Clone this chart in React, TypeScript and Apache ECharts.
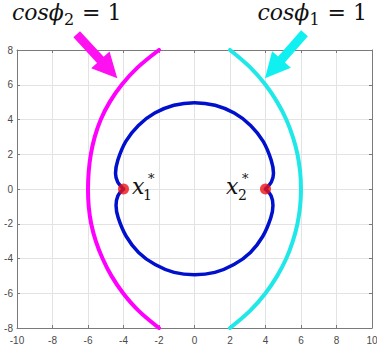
import React, { useEffect, useRef } from "react";
import * as echarts from "echarts";

// x / y ranges and tick step
const xRange = [-10, 10];
const yRange = [-8, 8];
const tickStep = 2;

// magenta curve (cos phi2 = 1)
const magentaX = [-2.0, -3.2, -4.1, -4.78, -5.28, -5.62, -5.84, -5.96, -6.0, -5.96, -5.82, -5.56, -5.18, -4.68, -4.02, -3.16, -2.0];
const magentaY = [8, 7, 6, 5, 4, 3, 2, 1, 0, -1, -2, -3, -4, -5, -6, -7, -8];

// cyan curve (cos phi1 = 1)
const cyanX = [2.0, 3.14, 4.0, 4.66, 5.17, 5.54, 5.8, 5.95, 6.0, 5.95, 5.8, 5.54, 5.17, 4.66, 4.0, 3.14, 2.0];
const cyanY = [8, 7, 6, 5, 4, 3, 2, 1, 0, -1, -2, -3, -4, -5, -6, -7, -8];

// blue closed curve, upper arc (from x1* over the top to x2*)
const blueUpperX = [-4.0, -4.33, -4.45, -4.32, -3.87, -3.16, -2.24, -1.16, 0, 1.16, 2.24, 3.16, 3.87, 4.32, 4.45, 4.33, 4.0];
const blueUpperY = [0, 0.4, 0.9, 1.66, 2.74, 3.66, 4.37, 4.82, 4.97, 4.82, 4.37, 3.66, 2.74, 1.66, 0.9, 0.4, 0];

// blue closed curve, lower arc (from x2* under the bottom to x1*)
const blueLowerX = [4.0, 4.32, 4.42, 4.3, 3.85, 3.15, 2.22, 1.15, 0, -1.15, -2.22, -3.15, -3.85, -4.3, -4.42, -4.32, -4.0];
const blueLowerY = [0, -0.4, -0.95, -1.65, -2.72, -3.65, -4.35, -4.8, -4.94, -4.8, -4.35, -3.65, -2.72, -1.65, -0.95, -0.4, 0];

// red points x1*, x2*
const pointX = [-4, 4];
const pointY = [0, 0];

const zip = (xs: number[], ys: number[]) => xs.map((x, i) => [x, ys[i]]);

function arrow(tail: number[], tip: number[], shaftHalf: number, headHalf: number, headLen: number) {
  const dx = tip[0] - tail[0];
  const dy = tip[1] - tail[1];
  const len = Math.hypot(dx, dy);
  const ux = dx / len, uy = dy / len;
  const nx = -uy, ny = ux;
  const bx = tip[0] - headLen * ux, by = tip[1] - headLen * uy;
  return [
    [tail[0] + shaftHalf * nx, tail[1] + shaftHalf * ny],
    [bx + shaftHalf * nx, by + shaftHalf * ny],
    [bx + headHalf * nx, by + headHalf * ny],
    [tip[0], tip[1]],
    [bx - headHalf * nx, by - headHalf * ny],
    [bx - shaftHalf * nx, by - shaftHalf * ny],
    [tail[0] - shaftHalf * nx, tail[1] - shaftHalf * ny],
  ];
}

const serif = "DejaVu Serif";

function txt(text: string, x: number, y: number, size: number, italic: boolean) {
  return {
    type: "text",
    x,
    y,
    z: 100,
    style: {
      text,
      fontFamily: serif,
      fontStyle: italic ? "italic" : "normal",
      fontSize: size,
      fill: "#111",
      align: "left",
      verticalAlign: "middle",
    },
  };
}

export default function App() {
  const ref = useRef<HTMLDivElement>(null);
  useEffect(() => {
    if (!ref.current) return;
    const chart = echarts.init(ref.current, null, { renderer: "svg" });
    const axisCommon = {
      type: "value" as const,
      interval: tickStep,
      axisLine: { show: true, onZero: false, lineStyle: { color: "#7a7a7a", width: 1 } },
      axisTick: { show: true, inside: true, length: 3, lineStyle: { color: "#7a7a7a" } },
    };
    const labelStyle = { color: "#4a4a4a", fontSize: 10, fontFamily: "Liberation Sans" };
    const curve = (xs: number[], ys: number[], color: string, width: number) => ({
      type: "line",
      data: zip(xs, ys),
      smooth: 0.34,
      showSymbol: false,
      lineStyle: { color, width, cap: "round", join: "round" },
    });
    chart.setOption({
      animation: false,
      backgroundColor: "#fff",
      grid: { left: 17, right: 5, top: 50, bottom: 28, containLabel: false, outerBoundsMode: "none" },
      xAxis: [
        {
          ...axisCommon,
          min: xRange[0],
          max: xRange[1],
          position: "bottom",
          axisLabel: { ...labelStyle, margin: 7 },
          splitLine: { show: true, lineStyle: { color: "#e3e3e3", width: 1 } },
        },
        {
          ...axisCommon,
          min: xRange[0],
          max: xRange[1],
          position: "top",
          axisLabel: { show: false },
          splitLine: { show: false },
        },
      ],
      yAxis: [
        {
          ...axisCommon,
          min: yRange[0],
          max: yRange[1],
          position: "left",
          axisLabel: { ...labelStyle, margin: 4 },
          splitLine: { show: true, lineStyle: { color: "#e3e3e3", width: 1 } },
        },
        {
          ...axisCommon,
          min: yRange[0],
          max: yRange[1],
          position: "right",
          axisLabel: { show: false },
          splitLine: { show: false },
        },
      ],
      series: [
        curve(magentaX, magentaY, "#ff00ff", 4),
        curve(cyanX, cyanY, "#20e8e8", 4),
        curve(blueUpperX, blueUpperY, "#0010cc", 3.5),
        curve(blueLowerX, blueLowerY, "#0010cc", 3.5),
        {
          type: "scatter",
          data: zip(pointX, pointY),
          symbolSize: 11,
          itemStyle: { color: "#ee1111" },
          z: 10,
        },
      ],
      graphic: [
        {
          type: "polygon",
          z: 100,
          shape: { points: arrow([76.7, 34.2], [117.3, 78.3], 4.5, 12.5, 25) },
          style: { fill: "#ff10f0" },
        },
        {
          type: "polygon",
          z: 100,
          shape: { points: arrow([304.5, 33.3], [265, 78.3], 4.5, 12.5, 25) },
          style: { fill: "#10f0f0" },
        },
        txt("cosϕ", 12, 12, 22, true),
        txt("2", 64, 19, 16, false),
        txt("= 1", 82, 12, 22, false),
        txt("cosϕ", 257.5, 12, 22, true),
        txt("1", 309.5, 19, 16, false),
        txt("= 1", 327.5, 12, 22, false),
        txt("x", 132, 186, 22, true),
        txt("1", 143, 195, 14, false),
        txt("*", 148, 178, 13, false),
        txt("x", 226, 186, 22, true),
        txt("2", 238, 195, 14, false),
        txt("*", 242, 178, 13, false),
      ],
    });
    return () => chart.dispose();
  }, []);
  return (
    <div
      ref={ref}
      style={{ position: "fixed", left: 0, top: 0, width: 377, height: 356, background: "#fff" }}
    />
  );
}
